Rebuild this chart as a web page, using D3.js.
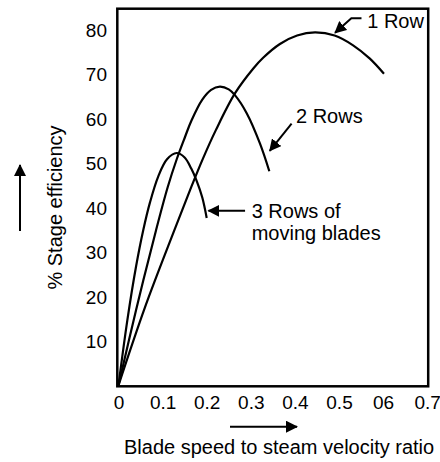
<!DOCTYPE html>
<html>
<head>
<meta charset="utf-8">
<script src="https://cdn.jsdelivr.net/npm/d3@7"></script>
<style>
  html, body { margin: 0; padding: 0; background: #fff; }
  svg { display: block; }
  text { font-family: "Liberation Sans", Arial, sans-serif; fill: #000; }
</style>
</head>
<body>
<svg id="chart" width="440" height="462"></svg>
<script>
// ---- data ----
const xTickValues = [0, 0.1, 0.2, 0.3, 0.4, 0.5, 0.6, 0.7];
const xTickLabels = ["0", "0.1", "0.2", "0.3", "0.4", "0.5", "06", "0.7"];
const yTickValues = [10, 20, 30, 40, 50, 60, 70, 80];

const row1 = [[0,0],[0.06,17.5],[0.1265,34.8],[0.162,43.8],[0.19,50.6],[0.221,57.4],[0.264,65.6],
              [0.3057,71.2],[0.328,73.6],[0.366,76.7],[0.405,78.6],[0.4456,79.3],[0.49,78.6],
              [0.532,76.4],[0.570,73.4],[0.602,70.0]];
const row2 = [[0,0],[0.04,17],[0.085,34.8],[0.1115,44.5],[0.132,50.8],[0.1508,55.8],[0.165,59.4],
              [0.19,64.2],[0.21,66.4],[0.23,67.1],[0.25,66.5],[0.264,65.2],[0.291,61.1],
              [0.3209,54.3],[0.342,48.1]];
const row3 = [[0,0],[0.02,14.6],[0.04,26.8],[0.0562,34.9],[0.0714,41.1],[0.09,46.9],[0.11,50.8],
              [0.132,52.2],[0.15,51.2],[0.165,48.7],[0.177,46.0],[0.19,42.2],[0.2,37.6]];
const seriesNames = ["1 Row", "2 Rows", "3 Rows of moving blades"];

// annotations: arrow tip in data units, label lines
const annotations = [
  { path: [[0.491,79.2],[0.528,82.5],[0.551,82.5]], lines: ["1 Row"], tx: [0.564, 80.4] },
  { path: [[0.343,52.7],[0.3925,58.8]], lines: ["2 Rows"], tx: [0.4025, 58.9] },
  { path: [[0.204,39.2],[0.287,39.2]], lines: ["3 Rows of", "moving blades"], tx: [0.302, 37.7] }
];

// ---- layout ----
const svg = d3.select("#chart");
const x = d3.scaleLinear().domain([0, 0.7]).range([118.5, 427.2]);
const y = d3.scaleLinear().domain([0, 80]).range([385.3, 29.3]);

// arrow marker
const defs = svg.append("defs");
defs.append("marker")
  .attr("id", "ah")
  .attr("viewBox", "0 0 12 12")
  .attr("refX", 11).attr("refY", 6)
  .attr("markerWidth", 12).attr("markerHeight", 12)
  .attr("markerUnits", "userSpaceOnUse")
  .attr("orient", "auto")
  .append("path").attr("d", "M0,0 L12,6 L0,12 Z").attr("fill", "#000");

// frame
svg.append("rect")
  .attr("x", 117.3).attr("y", 8.7)
  .attr("width", 428.2 - 117.3).attr("height", 386.3 - 8.7)
  .attr("fill", "none").attr("stroke", "#000").attr("stroke-width", 2.5);

// axes
const xAxis = d3.axisBottom(x).tickValues(xTickValues)
  .tickFormat((d, i) => xTickLabels[i]).tickSize(0).tickPadding(11);
const gx = svg.append("g").attr("transform", "translate(0,385)").call(xAxis);
gx.select(".domain").remove();
gx.selectAll("text").attr("font-size", 19).attr("font-family", '"Liberation Sans", Arial, sans-serif');

const yAxis = d3.axisLeft(y).tickValues(yTickValues).tickFormat(d3.format("d")).tickSize(0).tickPadding(10.5);
const gy = svg.append("g").attr("transform", "translate(117.5,0)").call(yAxis);
gy.select(".domain").remove();
gy.selectAll("text").attr("font-size", 19).attr("font-family", '"Liberation Sans", Arial, sans-serif').attr("dy", "0.36em");

// curves
const line = d3.line().x(d => x(d[0])).y(d => y(d[1])).curve(d3.curveCatmullRom.alpha(0.5));
svg.selectAll("path.curve").data([row1, row2, row3]).enter()
  .append("path").attr("class", "curve")
  .attr("d", line)
  .attr("fill", "none").attr("stroke", "#000").attr("stroke-width", 2.2);

// annotations
const pl = d3.line().x(d => x(d[0])).y(d => y(d[1]));
annotations.forEach(a => {
  const pts = a.path.slice().reverse();
  svg.append("path").attr("d", pl(pts))
    .attr("fill", "none").attr("stroke", "#000").attr("stroke-width", 2)
    .attr("marker-end", "url(#ah)");
  const t = svg.append("text").attr("x", x(a.tx[0])).attr("y", y(a.tx[1])).attr("font-size", 20);
  a.lines.forEach((s, i) => t.append("tspan").attr("x", x(a.tx[0])).attr("dy", i === 0 ? 0 : 22).text(s));
});

// axis titles
svg.append("text").attr("x", 124).attr("y", 454).attr("font-size", 20)
  .text("Blade speed to steam velocity ratio");
svg.append("text").attr("transform", "translate(61.5,207.5) rotate(-90)")
  .attr("text-anchor", "middle").attr("font-size", 20)
  .text("% Stage efficiency");

// direction arrows
svg.append("line").attr("x1", 230).attr("y1", 426.7).attr("x2", 297).attr("y2", 426.7)
  .attr("stroke", "#000").attr("stroke-width", 2).attr("marker-end", "url(#ah)");
svg.append("line").attr("x1", 20).attr("y1", 231).attr("x2", 20).attr("y2", 165)
  .attr("stroke", "#000").attr("stroke-width", 2).attr("marker-end", "url(#ah)");
</script>
</body>
</html>
